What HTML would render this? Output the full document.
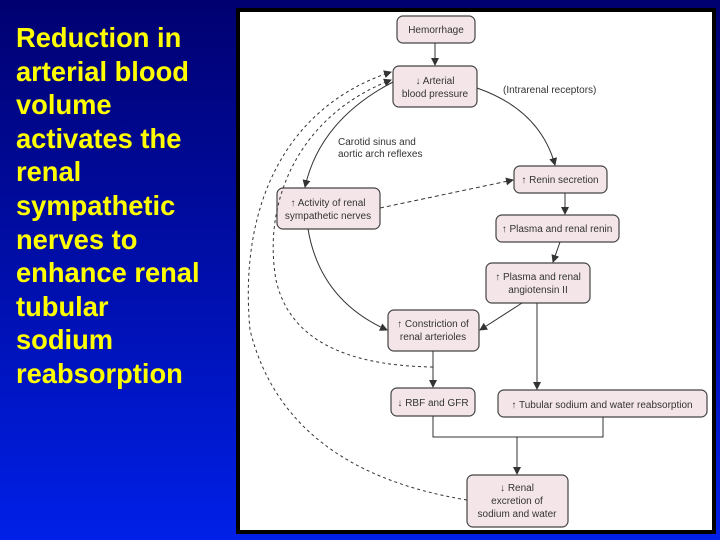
<!DOCTYPE html>
<html><head><style>
html,body{margin:0;padding:0}
body{width:720px;height:540px;overflow:hidden;background:linear-gradient(180deg,#000070 0%,#0010b0 55%,#0020e8 100%);position:relative;font-family:"Liberation Sans",sans-serif}
.t{position:absolute;left:16px;top:21px;color:#ffff00;font-weight:bold;font-size:27.3px;line-height:33.6px;white-space:nowrap}
.panel{position:absolute;left:236px;top:8px;width:472px;height:518px;background:#fff;border:4px solid #000}
svg{position:absolute;left:0;top:0}
</style></head><body>
<div class="t">Reduction in<br>arterial blood<br>volume<br>activates the<br>renal<br>sympathetic<br>nerves to<br>enhance renal<br>tubular<br>sodium<br>reabsorption</div>
<div class="panel"></div>
<svg width="720" height="540" viewBox="0 0 720 540" font-family="Liberation Sans, sans-serif" font-size="10" fill="#333">
<defs><marker id="a" markerWidth="8" markerHeight="8" refX="7" refY="4" orient="auto" markerUnits="userSpaceOnUse"><path d="M0,0 L8,4 L0,8 Z" fill="#333"/></marker></defs>
<g fill="#f4e6e8" stroke="#444" stroke-width="1.2">
<rect x="397" y="16" width="78" height="27" rx="6"/>
<rect x="393" y="66" width="84" height="41" rx="6"/>
<rect x="514" y="166" width="93" height="27" rx="6"/>
<rect x="277" y="188" width="103" height="41" rx="6"/>
<rect x="496" y="215" width="123" height="27" rx="6"/>
<rect x="486" y="263" width="104" height="40" rx="6"/>
<rect x="388" y="310" width="91" height="41" rx="6"/>
<rect x="391" y="388" width="84" height="28" rx="6"/>
<rect x="498" y="390" width="209" height="27" rx="6"/>
<rect x="467" y="475" width="101" height="52" rx="6"/>
</g>
<g fill="none" stroke="#333" stroke-width="1">
<line x1="435" y1="43" x2="435" y2="65" marker-end="url(#a)"/>
<path d="M477,88 Q540,110 555,165" marker-end="url(#a)"/>
<path d="M393,82 Q320,120 305,187" marker-end="url(#a)"/>
<path d="M380,208 L513,180" stroke-dasharray="4,3" marker-end="url(#a)"/>
<line x1="565" y1="193" x2="565" y2="214" marker-end="url(#a)"/>
<path d="M560,242 L553,262" marker-end="url(#a)"/>
<path d="M308,229 Q320,300 387,330" marker-end="url(#a)"/>
<path d="M522,303 L480,330" marker-end="url(#a)"/>
<line x1="537" y1="303" x2="537" y2="389" marker-end="url(#a)"/>
<line x1="433" y1="351" x2="433" y2="387" marker-end="url(#a)"/>
<path d="M433,367 Q295,365 276,280 C262,200 300,115 391,80" stroke-dasharray="3,3" marker-end="url(#a)"/>
<path d="M467,500 Q285,470 250,330 C238,200 290,105 391,72" stroke-dasharray="3,3" marker-end="url(#a)"/>
<polyline points="433,416 433,437 603,437 603,417"/>
<line x1="517" y1="437" x2="517" y2="474" marker-end="url(#a)"/>
</g>
<g text-anchor="middle">
<text x="436" y="33">Hemorrhage</text>
<text x="435" y="84">↓ Arterial</text><text x="435" y="97">blood pressure</text>
<text x="560" y="183">↑ Renin secretion</text>
<text x="328" y="206">↑ Activity of renal</text><text x="328" y="219">sympathetic nerves</text>
<text x="557" y="232">↑ Plasma and renal renin</text>
<text x="538" y="280">↑ Plasma and renal</text><text x="538" y="293">angiotensin II</text>
<text x="433" y="327">↑ Constriction of</text><text x="433" y="340">renal arterioles</text>
<text x="433" y="406">↓ RBF and GFR</text>
<text x="602" y="408">↑ Tubular sodium and water reabsorption</text>
<text x="517" y="491">↓ Renal</text><text x="517" y="504">excretion of</text><text x="517" y="517">sodium and water</text>
</g>
<text x="503" y="93">(Intrarenal receptors)</text>
<text x="338" y="145">Carotid sinus and</text><text x="338" y="157">aortic arch reflexes</text>
</svg>
</body></html>
